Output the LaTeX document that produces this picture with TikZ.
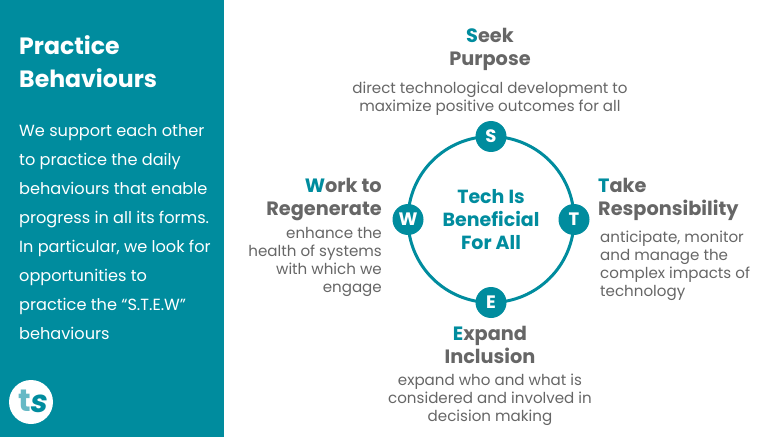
\documentclass[tikz,border=0pt]{standalone}
\usepackage{fontspec}
\setmainfont{Poppins}
\definecolor{tealmain}{HTML}{008C9E}
\definecolor{teallight}{HTML}{66B9C5}
\definecolor{greytext}{HTML}{666666}
\tikzset{
  panel/.style={fill=tealmain, draw=none, minimum width=224pt, minimum height=437pt, inner sep=0pt, anchor=south west},
  paneltitle/.style={text=white, align=left, anchor=west, inner sep=0pt, font=\fontsize{23.6}{33}\selectfont\bfseries},
  paneltext/.style={text=white, align=left, anchor=north west, inner sep=0pt, font=\fontsize{16.15}{29}\selectfont},
  logodisc/.style={circle, fill=white, minimum size=44pt, inner sep=0pt},
  logoletter/.style={inner sep=0pt, font=\fontsize{31}{31}\selectfont\bfseries},
  hub/.style={circle, draw=tealmain, line width=3pt, outer sep=0pt, minimum size=166pt, inner sep=0pt, align=center, text=tealmain, font=\fontsize{19}{23}\selectfont\bfseries},
  badge/.style={circle, fill=tealmain, text=white, minimum size=31pt, inner sep=0pt, font=\fontsize{18}{18}\selectfont\bfseries},
  headc/.style={text=greytext, align=center, inner sep=0pt, font=\fontsize{19.3}{23}\selectfont\bfseries},
  headr/.style={headc, align=right, anchor=east},
  headl/.style={headc, align=left, anchor=west},
  descc/.style={text=greytext, align=center, inner sep=0pt, font=\fontsize{15.1}{18}\selectfont},
  descr/.style={descc, align=right, anchor=east},
  descl/.style={descc, align=left, anchor=west},
}
\newcommand{\initial}[1]{\textcolor{tealmain}{#1}}
\begin{document}
\begin{tikzpicture}[x=1pt, y=1pt]
\useasboundingbox (0,0) rectangle (768,437);
\node[panel] (side) at (0,0) {};
\node[paneltitle] (title) at (19,375) {Practice\\Behaviours};
\node[paneltext] (intro) at (19,313) {We support each other\\to practice the daily\\behaviours that enable\\progress in all its forms.\\In particular, we look for\\opportunities to\\practice the “S.T.E.W”\\behaviours};
\node[logodisc] (logo) at (31,35) {};
\node[logoletter, text=teallight] (logot) at (25,36) {t};
\node[logoletter, text=tealmain, xslant=0.15] (logos) at (39.5,33) {s};
% ring
\node[hub] (ring) at (491,217.5) {Tech Is\\Beneficial\\For All};
\node[badge] (S) at (ring.north) {S};
\node[badge] (T) at (ring.east) {T};
\node[badge] (E) at (ring.south) {E};
\node[badge] (W) at (ring.west) {W};
% labels
\node[headc] (seek) at (490,388) {\initial{S}eek\\Purpose};
\node[descc] (seekd) at (490,338) {direct technological development to\\maximize positive outcomes for all};
\node[headl] (take) at (598,237.5) {\initial{T}ake\\Responsibility};
\node[descl] (taked) at (600,171) {anticipate, monitor\\and manage the\\complex impacts of\\technology};
\node[headc] (expand) at (490,92) {\initial{E}xpand\\Inclusion};
\node[descc] (expandd) at (490,37) {expand who and what is\\considered and involved in\\decision making};
\node[headr] (work) at (382,237.5) {\initial{W}ork to\\Regenerate};
\node[descr] (workd) at (382,175) {enhance the\\health of systems\\with which we\\engage};
\end{tikzpicture}
\end{document}
